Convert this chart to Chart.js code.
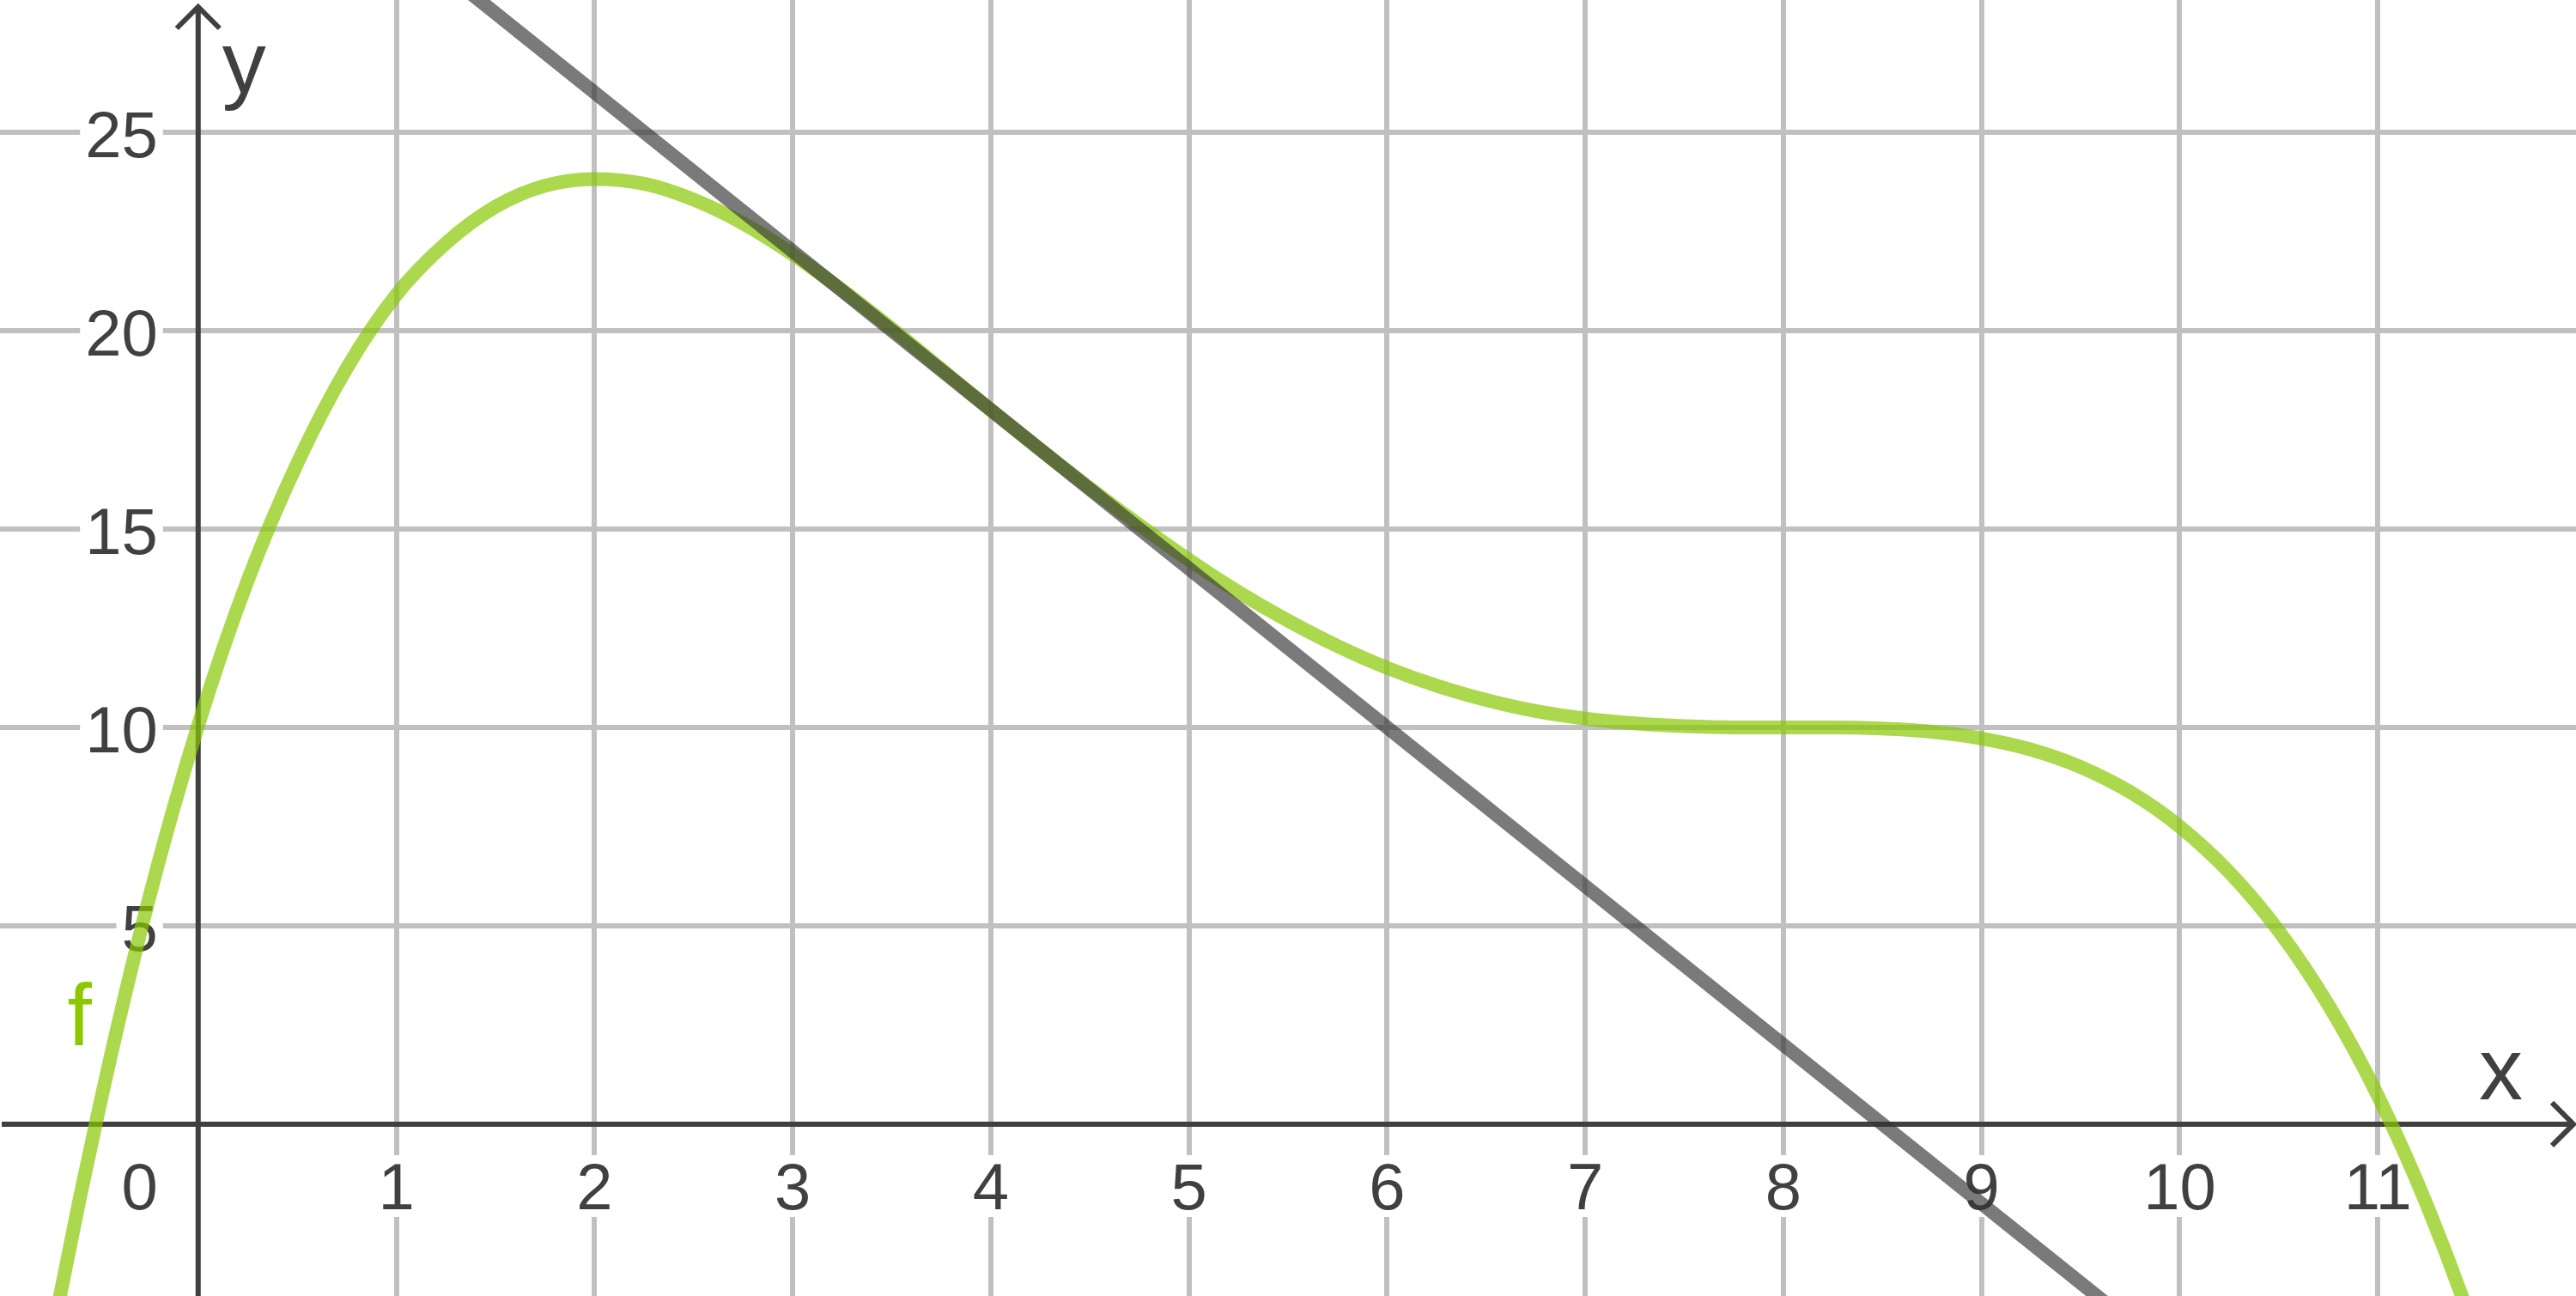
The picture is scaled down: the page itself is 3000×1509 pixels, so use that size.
<!DOCTYPE html>
<html>
<head>
<meta charset="utf-8">
<title>f und Tangente</title>
<script src="https://cdn.jsdelivr.net/npm/chart.js@4.4.1/dist/chart.umd.min.js"></script>
<style>
  html, body { margin: 0; padding: 0; background: #fff; }
  #wrap { width: 3000px; height: 1509px; }
</style>
</head>
<body>
<div id="wrap"><canvas id="graph"></canvas></div>
<script>
// curve f, every quarter unit
const fX = [-1, -0.75, -0.5, -0.25, 0, 0.25, 0.5, 0.75, 1, 1.25, 1.5, 1.75, 2, 2.25, 2.5, 2.75, 3, 3.25, 3.5, 3.75,
            4, 4.25, 4.5, 4.75, 5, 5.25, 5.5, 5.75, 6, 6.25, 6.5, 6.75, 7, 7.25, 7.5, 7.75, 8, 8.25, 8.5, 8.75,
            9, 9.25, 9.5, 9.75, 10, 10.25, 10.5, 10.75, 11, 11.25, 11.5, 11.75, 12];
const fY = [-12.78, -5.7, 0.4, 5.65, 10.05, 13.7, 16.65, 19.05, 20.9, 22.2, 23.12, 23.65, 23.82, 23.7, 23.3, 22.7, 21.92, 21.02, 20.05, 19.03,
            18.0, 17.0, 16.03, 15.1, 14.22, 13.41, 12.69, 12.05, 11.5, 11.05, 10.69, 10.41, 10.22, 10.1, 10.03, 10.0, 10.0, 10.0, 9.97, 9.89,
            9.72, 9.44, 9.0, 8.37, 7.5, 6.35, 4.87, 3.01, 0.72, -2.07, -5.41, -9.36, -14];

// tangent line (grey)
const tangentX = [-1, 12];
const tangentY = [38, -14];

// tick labels
const xTicks = [0, 1, 2, 3, 4, 5, 6, 7, 8, 9, 10, 11];
const xTickLabels = ['0', '1', '2', '3', '4', '5', '6', '7', '8', '9', '10', '11'];
const yTicks = [5, 10, 15, 20, 25];
const yTickLabels = ['5', '10', '15', '20', '25'];

const X_MIN = -1, X_MAX = 12, Y_MIN = -4.33, Y_MAX = 28.33;

const AXIS_COLOR = '#404040';
const GREEN = 'rgba(136, 200, 0, 0.7)';
const FONT = '"Liberation Sans", Arial, Helvetica, sans-serif';

function drawLabel(ctx, txt, x, y, align) {
  const w = ctx.measureText(txt).width;
  let left = x - w / 2;
  if (align === 'right') left = x - w;
  ctx.fillStyle = '#fff';
  ctx.fillRect(left - 6, y - 63, w + 12, 72);
  ctx.fillStyle = AXIS_COLOR;
  ctx.textAlign = align;
  ctx.fillText(txt, x, y);
}

const axesPlugin = {
  id: 'axes',
  beforeDatasetsDraw(chart) {
    const ctx = chart.ctx;
    const xs = chart.scales.x, ys = chart.scales.y;
    const area = chart.chartArea;
    const ox = xs.getPixelForValue(0), oy = ys.getPixelForValue(0);
    ctx.save();

    // tick labels with white backdrop
    ctx.font = '76px ' + FONT;
    ctx.textBaseline = 'alphabetic';
    for (let i = 0; i < xTicks.length; i++) {
      if (xTicks[i] === 0) {
        drawLabel(ctx, xTickLabels[i], ox - 47, oy + 99, 'right');
      } else {
        drawLabel(ctx, xTickLabels[i], xs.getPixelForValue(xTicks[i]), oy + 99, 'center');
      }
    }
    for (let i = 0; i < yTicks.length; i++) {
      drawLabel(ctx, yTickLabels[i], ox - 47, ys.getPixelForValue(yTicks[i]) + 29, 'right');
    }

    // axes with arrows
    ctx.strokeStyle = AXIS_COLOR;
    ctx.lineWidth = 6;
    ctx.beginPath();
    ctx.moveTo(area.left + 2, oy);
    ctx.lineTo(area.right - 3, oy);
    ctx.moveTo(area.right - 28, oy - 25);
    ctx.lineTo(area.right - 3, oy);
    ctx.lineTo(area.right - 28, oy + 25);
    ctx.moveTo(ox, area.bottom);
    ctx.lineTo(ox, area.top + 8);
    ctx.moveTo(ox - 25, area.top + 33);
    ctx.lineTo(ox, area.top + 8);
    ctx.lineTo(ox + 25, area.top + 33);
    ctx.stroke();

    // axis names and curve name
    ctx.font = '102px ' + FONT;
    ctx.textAlign = 'left';
    ctx.fillStyle = AXIS_COLOR;
    ctx.fillText('x', area.right - 113, oy - 29);
    ctx.fillText('y', ox + 28, area.top + 108);
    ctx.fillStyle = '#8bc800';
    ctx.fillText('f', xs.getPixelForValue(-0.66), ys.getPixelForValue(2.0));
    ctx.restore();
  }
};

const fData = fX.map((x, i) => ({ x: x, y: fY[i] }));
const tangentData = tangentX.map((x, i) => ({ x: x, y: tangentY[i] }));

new Chart(document.getElementById('graph'), {
  type: 'line',
  data: {
    datasets: [
      {
        label: 'Tangente',
        data: tangentData,
        borderColor: 'rgba(51, 51, 51, 0.65)',
        borderWidth: 16,
        pointRadius: 0,
        tension: 0,
        order: 0
      },
      {
        label: 'f',
        data: fData,
        borderColor: GREEN,
        borderWidth: 16,
        pointRadius: 0,
        cubicInterpolationMode: 'monotone',
        order: 1
      }
    ]
  },
  options: {
    responsive: true,
    maintainAspectRatio: false,
    devicePixelRatio: 1,
    animation: false,
    events: [],
    layout: { padding: 0 },
    plugins: { legend: { display: false }, tooltip: { enabled: false } },
    scales: {
      x: {
        type: 'linear',
        min: X_MIN,
        max: X_MAX,
        afterBuildTicks: (scale) => {
          scale.ticks = xTicks.filter(v => v !== 0).map(v => ({ value: v }));
        },
        grid: { color: '#c0c0c0', lineWidth: 6, drawTicks: false },
        border: { display: false },
        ticks: { display: false }
      },
      y: {
        type: 'linear',
        min: Y_MIN,
        max: Y_MAX,
        afterBuildTicks: (scale) => {
          scale.ticks = yTicks.map(v => ({ value: v }));
        },
        grid: { color: '#c0c0c0', lineWidth: 6, drawTicks: false },
        border: { display: false },
        ticks: { display: false }
      }
    }
  },
  plugins: [axesPlugin]
});
</script>
</body>
</html>
